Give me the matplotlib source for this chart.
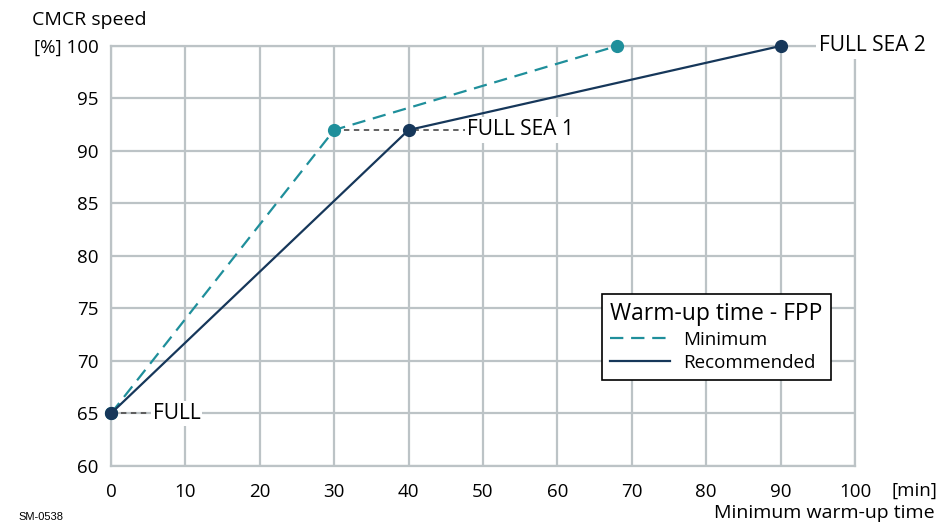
import matplotlib.pyplot as plt

plt.rcParams['font.family'] = ['Open Sans', 'DejaVu Sans']

# Warm-up time data
min_time = [0, 30, 68]
min_speed = [65, 92, 100]
rec_time = [0, 40, 90]
rec_speed = [65, 92, 100]

x_ticks = [0, 10, 20, 30, 40, 50, 60, 70, 80, 90, 100]
y_ticks = [60, 65, 70, 75, 80, 85, 90, 95, 100]
y_labels = ["60", "65", "70", "75", "80", "85", "90", "95", "[%] 100"]

# step labels: (start x, end x, speed, text)
steps = [(0, 5.3, 65, "FULL"), (30, 47.6, 92, "FULL SEA 1"), (68, 94.8, 100, "FULL SEA 2")]

teal = "#1f8f9b"
navy = "#16375a"
grid_c = "#bcc3c6"

fig = plt.figure(figsize=(9.38, 5.22), dpi=100)
ax = fig.add_axes([0.1183, 0.1073, 0.7932, 0.8046])

ax.set_xlim(0, 100)
ax.set_ylim(60, 100)
ax.set_xticks(x_ticks)
ax.set_xticklabels([str(v) for v in x_ticks], fontsize=13.5)
ax.set_yticks(y_ticks)
ax.set_yticklabels(y_labels, fontsize=13.5)
ax.tick_params(axis="x", length=0, pad=12)
ax.tick_params(axis="y", length=0, pad=9)
ax.grid(True, color=grid_c, linewidth=1.6)
for s in ax.spines.values():
    s.set_color(grid_c)
    s.set_linewidth(1.6)
ax.set_axisbelow(True)

# dashed reference lines and step labels
for x0, x1, y, txt in steps:
    ax.plot([x0, x1], [y, y], color="#555555", linestyle=(0, (3, 2.5)), linewidth=1.3, zorder=2, clip_on=False)
    ax.text(x1 + 0.3, y, txt, fontsize=15, va="center", ha="left", zorder=3,
            bbox=dict(facecolor="white", edgecolor="none", pad=1.5), clip_on=False)

ax.plot(min_time, min_speed, color=teal, linestyle=(0, (6, 3.5)), linewidth=1.6,
        marker="o", markersize=8.5, zorder=4, clip_on=False, label="Minimum")
ax.plot(rec_time, rec_speed, color=navy, linewidth=1.6,
        marker="o", markersize=8.5, zorder=5, clip_on=False, label="Recommended")

leg = ax.legend(title="Warm-up time - FPP", loc="lower right", bbox_to_anchor=(0.9677, 0.2048),
                borderaxespad=0, fontsize=13.5, title_fontsize=16.5, frameon=True, fancybox=False,
                edgecolor="black", framealpha=1, handlelength=3.2, borderpad=0.45,
                labelspacing=0.25, handletextpad=0.7)
leg.get_frame().set_linewidth(1.2)
leg._legend_box.align = "left"
for h in leg.legend_handles:
    h.set_marker("")

fig.text(32 / 938, 1 - 20 / 522, "CMCR speed", fontsize=14, va="center", ha="left")
fig.text(891 / 938, 1 - 491 / 522, "[min]", fontsize=13.5, va="center", ha="left")
fig.text(935 / 938, 1 - 513 / 522, "Minimum warm-up time", fontsize=14, va="center", ha="right")
fig.text(18 / 938, 1 - 517 / 522, "SM-0538", fontsize=8, va="center", ha="left", family="Liberation Sans")

fig.savefig("out.png", dpi=100)
